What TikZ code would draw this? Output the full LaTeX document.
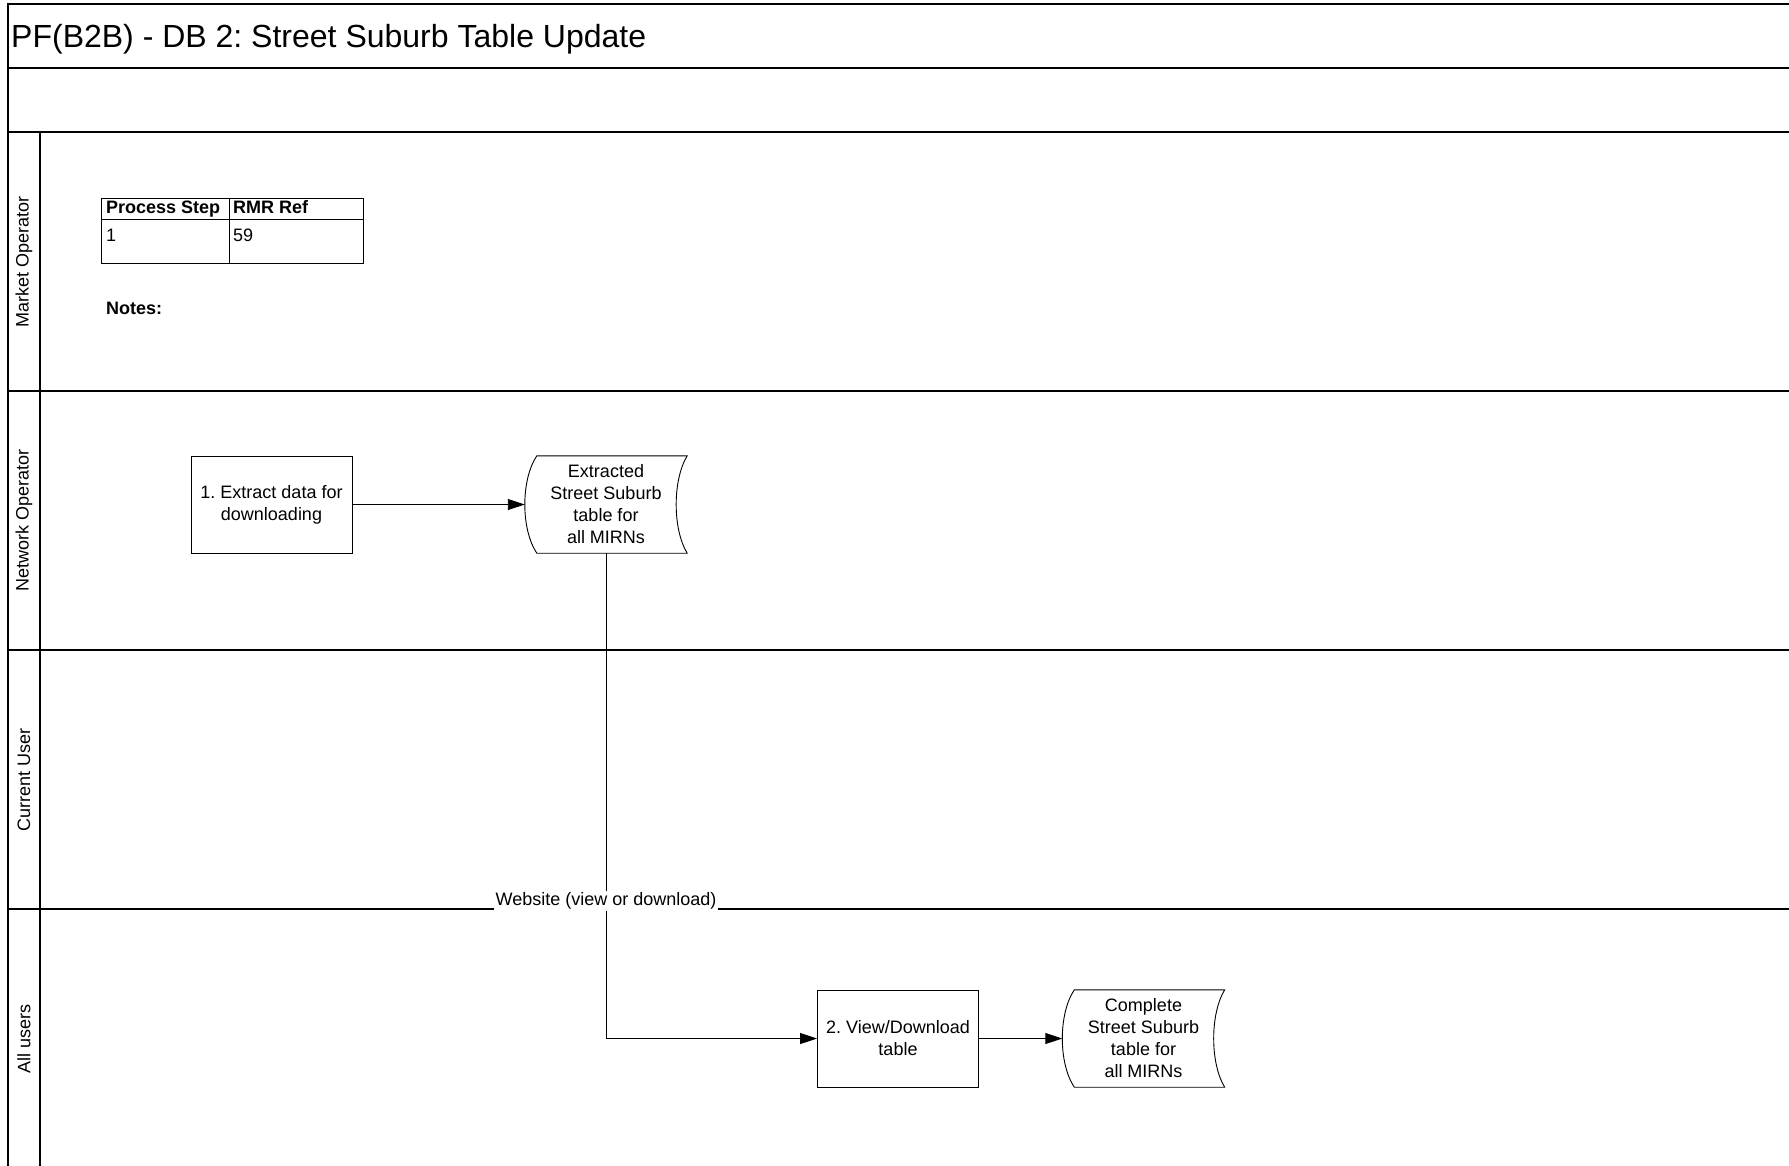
\documentclass[tikz,border=0pt]{standalone}
\usepackage{fontspec}
\setmainfont{Liberation Sans}
\usetikzlibrary{arrows.meta}
\frenchspacing
\newcommand{\storeddata}[1]{%
	\draw[line width=0.9pt] ([xshift=12pt]#1.north west) -- (#1.north east)
		.. controls +(-14.7,24) and +(-14.7,-24) .. (#1.south east)
		-- ([xshift=12pt]#1.south west)
		.. controls +(-16,-24) and +(-16,24) .. ([xshift=12pt]#1.north west) -- cycle;}

\begin{document}
\begin{tikzpicture}[x=1pt, y=-1pt,
		  frame/.style={line width=1.6pt},
		  lane/.style={line width=1.2pt},
		  txt/.style={font=\fontsize{18}{22}\selectfont},
		  cell/.style={txt, anchor=base west, inner sep=0pt},
		  process/.style={txt, draw, line width=0.9pt, minimum width=161pt, minimum height=97pt, align=center, inner sep=2pt},
		  data/.style={txt, minimum width=162pt, minimum height=97pt, align=center, inner sep=0pt},
		  lanename/.style={txt, rotate=90},
		  flow/.style={line width=0.9pt, -{Triangle[length=17pt,width=11pt]}},
		  weblabel/.style={txt, fill=white, inner sep=1.5pt}]
		  \clip (0,0) rectangle (1789,1165);
		  \draw[frame] (1800,4) -- (8,4) -- (8,1170);
		  \draw[lane] (8,68) -- (1800,68);
		  \foreach \y in {132,391,650,909}{
		      \draw[lane] (8,\y) -- (1800,\y);
		  }
		  \draw[lane] (40,132) -- (40,1170);
		  \foreach \name [count=\i] in {Market Operator, Network Operator, Current User, All users}{
		      \node[lanename] (lane\i) at (24, {2.5+259*\i}) {\name};
		  }
		  \node[anchor=base west, inner sep=0pt, font=\fontsize{32}{38}\selectfont] (title) at (11,47) {PF(B2B) - DB 2: Street Suburb Table Update};
		  \draw[line width=0.9pt] (101,198) rectangle (363,263);
		  \draw[line width=0.9pt] (101,219) -- (363,219);
		  \draw[line width=0.9pt] (229,198) -- (229,263);
		  \node[cell, font=\fontsize{18}{22}\selectfont\bfseries] (hstep) at (106,213) {Process Step};
		  \node[cell, font=\fontsize{18}{22}\selectfont\bfseries] (hrmr) at (233,213) {RMR Ref};
		  \node[cell] (step1) at (106,241) {1};
		  \node[cell] (rmr1) at (233,241) {59};
		  \node[cell, font=\fontsize{18}{22}\selectfont\bfseries] (notes) at (106,314) {Notes:};
		  \node[process] (extract) at (271.5,504.5) {1. Extract data for\\downloading};
		  \node[data] (ext) at (606,504.5) {Extracted\\Street Suburb\\table for\\all MIRNs};
		  \storeddata{ext}
		  \node[process] (view) at (898,1038.5) {2. View/Download\\table};
		  \node[data] (comp) at (1143.5,1038.5) {Complete\\Street Suburb\\table for\\all MIRNs};
		  \storeddata{comp}
		  \draw[flow] (extract.east) -- (ext.west);
		  \draw[flow] (ext.south) |- node[weblabel, pos=0.358] (web) {Website (view or download)} (view.west);
		  \draw[flow] (view.east) -- (comp.west);
	\end{tikzpicture}
\end{document}
